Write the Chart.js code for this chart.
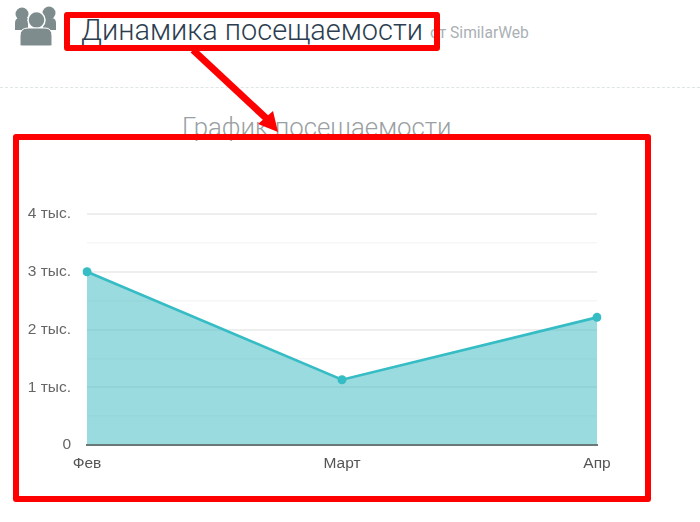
<!DOCTYPE html>
<html lang="ru">
<head>
<meta charset="utf-8">
<title>Динамика посещаемости</title>
<script src="https://cdn.jsdelivr.net/npm/chart.js@4"></script>
<style>
    html, body { margin: 0; padding: 0; background: #fff; }
    #page { position: relative; width: 700px; height: 522px; overflow: hidden; font-family: Roboto, sans-serif; }
    #page canvas { position: absolute; left: 0; top: 0; }
    #page svg { position: absolute; left: 0; top: 0; }
    .txt { position: absolute; white-space: nowrap; font-weight: 300; }
    #heading { left: 81px; top: 12px; font-size: 28.9px; line-height: 36px; color: #2c3e50; }
    #source { left: 430px; top: 24px; font-size: 15.6px; line-height: 18px; color: #aab0b4; font-weight: 400; }
    #chartTitle { left: 182px; top: 111px; font-size: 25.8px; line-height: 32px; color: #9a9fa3; }
    #rule { position: absolute; left: 0; top: 87px; width: 700px; border-top: 1px dashed #dfe5e5; }
</style>
</head>
<body>
<div id="page">
    <div class="txt" id="heading">Динамика посещаемости</div>
    <div class="txt" id="source">от SimilarWeb</div>
    <div id="rule"></div>
    <div class="txt" id="chartTitle">График посещаемости</div>
    <canvas id="visitsChart" width="700" height="522"></canvas>
    <svg width="700" height="522">
        <!-- people icon -->
        <g fill="#7f8c8d">
            <circle cx="22" cy="14" r="6.5"/>
            <circle cx="49" cy="13" r="6.5"/>
            <path d="M15 30 v-7 q0-5 5-5 h8 v12z"/>
            <path d="M56 30 v-7 q0-5-5-5 h-8 v12z"/>
            <circle cx="36.5" cy="20" r="8.5" stroke="#fff" stroke-width="1.5"/>
            <path d="M20 45 v-9 q0-8 8-8 h17 q7 0 7 8 v9 q0 1-2 1 h-28 q-2 0-2-1z" stroke="#fff" stroke-width="1"/>
        </g>
        <!-- red annotations -->
        <g fill="none" stroke="#ff0000" stroke-width="6" stroke-linejoin="round">
            <rect x="67" y="15" width="370" height="33"/>
            <rect x="16" y="137" width="632" height="362"/>
        </g>
        <line x1="193" y1="50" x2="267" y2="119" stroke="#ff0000" stroke-width="7"/>
        <polygon points="278,132 258,124 273,111" fill="#ff0000"/>
    </svg>
</div>
<script>
// values
const categories = ['Фев', 'Март', 'Апр'];
const visits = [3000, 1130, 2210];
const yTickValues = [0, 1000, 2000, 3000, 4000];
const yTickLabels = ['0', '1 тыс.', '2 тыс.', '3 тыс.', '4 тыс.'];

new Chart(document.getElementById('visitsChart'), {
    type: 'line',
    data: {
        labels: categories,
        datasets: [{
            data: visits,
            borderColor: '#36bcc4',
            backgroundColor: 'rgba(52, 184, 192, 0.5)',
            borderWidth: 2.6,
            fill: true,
            tension: 0,
            pointRadius: 4.5,
            pointBackgroundColor: '#36bcc4',
            pointBorderWidth: 0
        }]
    },
    options: {
        responsive: false,
        animation: false,
        layout: { padding: { left: 0, right: 103, top: 214, bottom: 40 } },
        plugins: { legend: { display: false }, title: { display: false }, tooltip: { enabled: false } },
        scales: {
            x: {
                offset: false,
                grid: { display: false },
                border: { color: '#6a7878', width: 2, z: 1 },
                ticks: { color: '#555', font: { family: 'Liberation Sans', size: 15.5 }, maxRotation: 0, padding: 1 },
                afterFit: box => { box.height = 37; }
            },
            y: {
                min: 0,
                max: 4000,
                grid: {
                    drawTicks: false,
                    lineWidth: ctx => ctx.tick && ctx.tick.value % 1000 === 0 ? 2 : 1.5,
                    color: ctx => ctx.tick && ctx.tick.value % 1000 === 0 ? '#eeeeee' : '#f6f6f6'
                },
                border: { display: false },
                ticks: {
                    stepSize: 500,
                    padding: 16,
                    color: '#666',
                    font: { family: 'Liberation Sans', size: 15.5 },
                    callback: value => {
                        const i = yTickValues.indexOf(value);
                        return i === -1 ? '' : yTickLabels[i];
                    }
                },
                afterFit: box => { box.width = 87; }
            }
        }
    }
});
</script>
</body>
</html>
